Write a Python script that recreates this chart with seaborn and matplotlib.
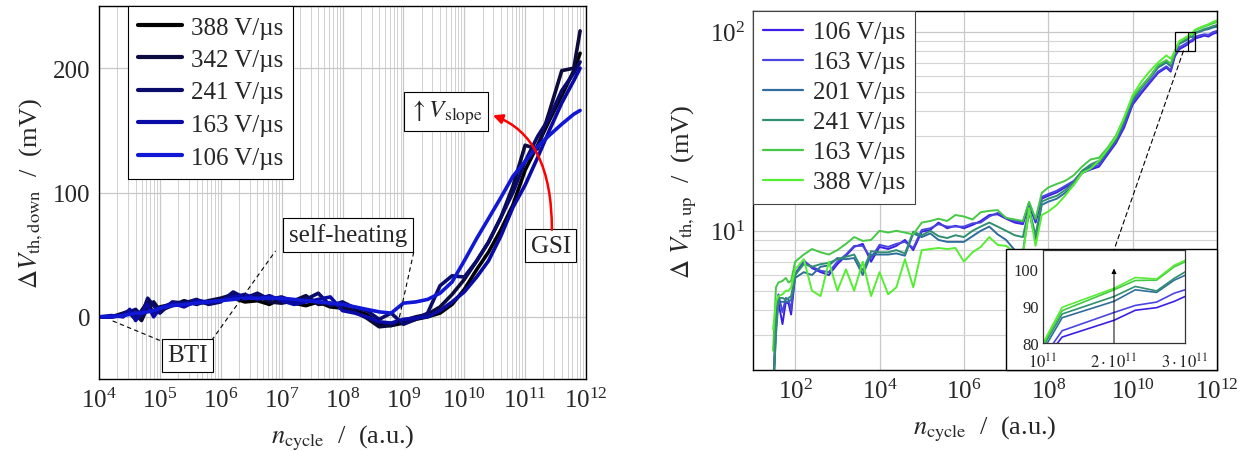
import numpy as np
import pandas as pd
import matplotlib
matplotlib.use("Agg")
import matplotlib.pyplot as plt
import seaborn as sns
from matplotlib.patches import Rectangle, ConnectionPatch
from matplotlib.ticker import LogLocator, NullFormatter, FixedLocator, NullLocator

# ---------------- data: left panel (Delta V_th,down) ----------------
x_left = [1.0e4, 1.6e4, 2.5e4, 3.2e4, 4.0e4, 5.0e4, 6.3e4, 7.9e4, 1.0e5, 1.6e5,
          2.5e5, 4.0e5, 6.3e5, 1.0e6, 1.6e6, 2.5e6, 4.0e6, 6.3e6, 1.0e7, 1.6e7,
          2.5e7, 4.0e7, 6.3e7, 1.0e8, 1.6e8, 2.5e8, 4.0e8, 6.3e8, 1.0e9, 1.6e9,
          2.5e9, 4.0e9, 6.3e9, 1.0e10, 1.6e10, 2.5e10, 4.0e10, 6.3e10, 1.0e11, 1.6e11,
          2.5e11, 4.0e11, 6.3e11, 8.0e11]
down_388 = [0, 0, 1, 3, -2, 5, 12, 2, 8, 10, 9, 12, 11, 14, 15, 12, 13, 10, 15, 11,
            9, 12, 8, 7, 5, 2, -6, -7, -5, -2, 0, 3, 10, 22, 38, 52, 70, 90, 118, 138,
            158, 178, 198, 212]
down_342 = [0, 0, 3, 5, 2, -3, 8, 12, 5, 9, 13, 10, 13, 15, 18, 14, 17, 12, 11, 13,
            17, 10, 11, 8, 4, -1, -8, -7, -3, 0, 2, 8, 18, 30, 45, 60, 80, 105, 138, 135,
            165, 198, 200, 230]
down_241 = [0, 0, 2, 4, 6, 1, 15, 9, 3, 12, 11, 14, 10, 12, 20, 15, 19, 14, 16, 12,
            14, 19, 9, 12, 7, 5, -2, 3, -6, -2, 3, 25, 33, 32, 45, 60, 80, 100, 125, 145,
            160, 182, 196, 205]
down_163 = [0, 1, 0, 6, -3, 4, 10, 0, 7, 11, 8, 13, 12, 13, 16, 18, 14, 17, 13, 10,
            12, 14, 16, 5, 3, 0, -4, -5, -2, -1, 0, 5, 12, 20, 32, 45, 65, 88, 106, 128,
            150, 172, 190, 200]
down_106 = [0, 0, 1, 2, 3, 3, 4, 5, 7, 9, 10, 11, 12, 13, 14, 15, 15, 15, 15, 14,
            13, 12, 11, 10, 8, 6, 4, 3, 11, 12, 14, 19, 28, 45, 63, 79, 96, 113, 125, 137,
            146, 155, 163, 166]
left_labels = ["388 V/µs", "342 V/µs", "241 V/µs", "163 V/µs", "106 V/µs"]
left_series = [down_388, down_342, down_241, down_163, down_106]
left_colors = ["#000000", "#0b0b3d", "#0b0b6e", "#0a0aa6", "#1018d6"]

# ---------------- data: right panel (Delta V_th,up) ----------------
x_right = [3.0e1, 3.5e1, 4.0e1, 5.0e1, 6.0e1, 7.0e1, 8.0e1, 1.0e2, 1.6e2, 2.5e2,
           4.0e2, 6.3e2, 1.0e3, 1.6e3, 2.5e3, 4.0e3, 6.3e3, 1.0e4, 1.6e4, 2.5e4,
           4.0e4, 6.3e4, 1.0e5, 1.6e5, 2.5e5, 4.0e5, 6.3e5, 1.0e6, 1.6e6, 2.5e6,
           4.0e6, 6.3e6, 1.0e7, 1.6e7, 2.5e7, 3.5e7, 5.0e7, 7.0e7, 1.0e8, 1.6e8,
           2.5e8, 4.0e8, 6.3e8, 1.0e9, 1.6e9, 2.5e9, 4.0e9, 6.3e9, 1.0e10, 1.6e10,
           2.5e10, 4.0e10, 6.3e10, 8.0e10, 1.0e11, 1.27e11, 2.0e11, 2.3e11, 2.6e11, 2.85e11,
           3.0e11, 4.0e11, 5.0e11, 6.3e11, 8.0e11, 1.0e12]
up_106 = [1.5, 3.5, 4.4, 3.4, 4.4, 4.3, 3.8, 6.0, 7.1, 6.5,
          6.2, 6.0, 6.8, 7.5, 8.3, 8.6, 7.0, 8.3, 8.1, 8.4,
          9.0, 8.0, 9.9, 10.1, 11.0, 10.3, 10.6, 10.3, 10.7, 11.2,
          12.0, 12.1, 11.5, 11.0, 10.8, 13.5, 11.0, 14.5, 15.0, 15.6,
          16.5, 17.5, 19.5, 20.3, 21.0, 24.0, 27.5, 33.0, 43.0, 49.0,
          55.0, 62.0, 66.0, 63.0, 75.0, 81.6, 86.1, 88.8, 89.5, 91.2,
          92.5, 94.0, 95.5, 94.5, 97.5, 99.0]
up_163a = [1.5, 3.8, 4.8, 3.9, 4.6, 4.5, 4.0, 6.1, 7.0, 6.6,
           6.3, 6.2, 7.0, 7.6, 8.4, 8.4, 7.3, 8.5, 8.3, 8.6,
           8.8, 8.2, 10.1, 10.3, 10.8, 10.5, 10.5, 10.5, 10.9, 11.0,
           11.8, 12.3, 11.6, 11.2, 11.0, 13.8, 11.3, 14.8, 15.3, 15.9,
           16.8, 17.8, 19.8, 20.7, 21.4, 24.5, 28.0, 34.0, 44.0, 50.0,
           56.0, 63.0, 67.0, 64.0, 76.0, 83.3, 88.2, 90.1, 91.0, 93.4,
           94.3, 96.0, 97.0, 96.5, 99.5, 101.0]
up_201 = [1.5, 3.0, 4.4, 4.4, 4.4, 4.4, 4.5, 5.8, 6.2, 6.0,
          6.6, 6.7, 7.3, 7.2, 7.3, 6.0, 7.6, 7.6, 7.6, 7.7,
          7.5, 9.7, 9.3, 9.7, 9.0, 8.8, 8.8, 8.8, 9.4, 10.0,
          10.5, 9.6, 9.0, 8.0, 7.8, 12.5, 9.0, 13.5, 14.0, 14.5,
          15.5, 17.0, 19.5, 21.0, 22.0, 25.0, 28.5, 35.0, 45.0, 52.0,
          58.0, 66.0, 70.0, 67.0, 78.0, 86.8, 91.2, 94.3, 93.6, 96.9,
          98.2, 100.0, 102.0, 103.0, 105.0, 106.0]
up_241 = [1.5, 3.2, 4.6, 4.6, 4.5, 4.6, 4.7, 6.0, 6.8, 6.6,
          6.8, 6.9, 7.2, 7.4, 7.6, 6.3, 7.9, 7.8, 7.8, 8.0,
          7.7, 9.9, 9.5, 10.0, 9.4, 9.2, 9.5, 9.3, 10.0, 10.5,
          11.0, 10.5, 10.0, 9.5, 9.3, 13.0, 9.5, 14.0, 14.5, 15.0,
          16.0, 17.5, 20.0, 21.5, 22.5, 25.5, 29.0, 36.0, 46.0, 53.0,
          59.0, 67.0, 71.0, 68.0, 79.0, 87.8, 92.5, 95.2, 94.0, 97.4,
          99.1, 101.0, 103.0, 104.5, 106.5, 108.0]
up_163b = [2.5, 5.2, 5.5, 5.6, 5.8, 5.5, 5.6, 7.0, 7.6, 8.1,
           7.8, 7.6, 8.0, 8.6, 9.3, 8.9, 9.0, 10.0, 9.8, 10.0,
           9.8, 9.6, 11.0, 11.2, 11.5, 11.2, 12.0, 11.8, 11.4, 12.4,
           12.6, 12.7, 11.6, 11.4, 11.2, 14.0, 11.5, 15.5, 16.5, 17.2,
           17.8, 19.0, 21.0, 22.8, 23.3, 26.0, 30.0, 37.0, 47.0, 53.0,
           59.0, 68.0, 72.0, 69.0, 79.5, 88.7, 94.3, 96.8, 96.9, 100.5,
           101.8, 104.0, 106.0, 108.0, 110.0, 112.0]
up_388 = [3.2, 4.4, 4.7, 4.8, 5.0, 5.0, 5.2, 6.4, 7.2, 5.0,
          4.7, 7.0, 5.0, 6.4, 5.0, 7.0, 4.7, 6.2, 4.8, 5.2,
          7.2, 5.2, 8.0, 8.1, 8.2, 8.1, 8.2, 7.0, 7.8, 8.3,
          9.3, 8.5, 8.4, 7.8, 7.5, 13.0, 8.4, 12.0, 12.5, 13.5,
          15.0, 17.0, 19.5, 20.5, 22.5, 25.5, 29.5, 37.0, 48.0, 56.0,
          63.0, 70.0, 76.0, 73.0, 80.0, 89.6, 94.7, 97.6, 97.2, 100.9,
          102.2, 105.0, 107.0, 109.0, 112.0, 114.0]
right_labels = ["106 V/µs", "163 V/µs", "201 V/µs", "241 V/µs", "163 V/µs", "388 V/µs"]
right_series = [up_106, up_163a, up_201, up_241, up_163b, up_388]
right_colors = ["#3b1fe6", "#4b45e0", "#2f6d9c", "#2f8f70", "#45c845", "#55ee33"]

inset_xticks = [1e11, 2e11, 3e11]
inset_xticklabels = [r"$10^{11}$", r"$2\cdot10^{11}$", r"$3\cdot10^{11}$"]
inset_yticks = [80, 90, 100]

# ---------------- style ----------------
sns.set_style("white")
plt.rcParams['font.family'] = ['Liberation Serif', 'DejaVu Serif']
plt.rcParams['mathtext.fontset'] = 'stix'
plt.rcParams['xtick.direction'] = 'in'
plt.rcParams['ytick.direction'] = 'in'

W, H = 1246, 452
fig = plt.figure(figsize=(W / 100, H / 100), dpi=100)

def fbox(l, t, r, b):
    return [l / W, 1 - b / H, (r - l) / W, (b - t) / H]

TFS = 18   # tick labels
LFS = 19   # axis labels
GFS = 18   # legend
AFS = 18   # annotation boxes

# ---------------- left panel ----------------
axL = fig.add_axes(fbox(99, 7, 586, 380))
axL.set_xscale('log')
for lab, ys, c in zip(left_labels, left_series, left_colors):
    sns.lineplot(x=x_left, y=ys, ax=axL, color=c, linewidth=2.6, label=lab,
                 sort=False, estimator=None)
axL.set_xlim(1e4, 1e12)
axL.set_ylim(-50, 250)
axL.xaxis.set_major_locator(LogLocator(base=10, numticks=20))
axL.xaxis.set_minor_locator(LogLocator(base=10, subs=np.arange(2, 10), numticks=200))
axL.xaxis.set_minor_formatter(NullFormatter())
axL.set_yticks([0, 100, 200])
axL.grid(True, which='major', color='#c8c8c8', linewidth=0.9)
axL.grid(True, which='minor', axis='x', color='#d0d0d0', linewidth=0.7)
axL.set_axisbelow(True)
axL.tick_params(labelsize=TFS, length=4, which='major', pad=6)
axL.tick_params(which='minor', length=2)
axL.set_xlabel(r"$n_{\mathrm{cycle}}$  /  (a.u.)", fontsize=LFS, labelpad=8)
axL.set_ylabel(r"$\Delta V_{\mathrm{th,down}}$  /  (mV)", fontsize=LFS, labelpad=6)
for s in axL.spines.values():
    s.set_color('black'); s.set_linewidth(1.0)
legL = axL.legend(loc='upper left', bbox_to_anchor=(0.06, 1.0), borderaxespad=0,
                  fontsize=GFS, frameon=True, fancybox=False, framealpha=1,
                  edgecolor='black', handlelength=1.75, labelspacing=0.4,
                  handletextpad=0.35, borderpad=0.4)
legL.get_frame().set_linewidth(0.8)
for h in legL.get_lines():
    h.set_linewidth(3.0)

boxkw = dict(boxstyle='square,pad=0.22', fc='white', ec='black', lw=0.8)
axL.text(10**9.7, 165, r"$\uparrow V_{\mathrm{slope}}$", fontsize=AFS, ha='center',
         va='center', bbox=boxkw, zorder=6)
axL.text(10**11.42, 57, "GSI", fontsize=AFS, ha='center', va='center', bbox=boxkw, zorder=6)
axL.text(10**8.09, 66, "self-heating", fontsize=AFS, ha='center', va='center',
         bbox=boxkw, zorder=6)
axL.text(10**5.45, -31, "BTI", fontsize=AFS, ha='center', va='center', bbox=boxkw, zorder=6)
axL.annotate("", xy=(10**10.47, 162), xytext=(10**11.44, 70),
             arrowprops=dict(arrowstyle='-|>', color='red', lw=1.8, mutation_scale=14,
                             connectionstyle="angle3,angleA=90,angleB=-20",
                             shrinkA=0, shrinkB=0), zorder=7)
dash = dict(color='black', linestyle=(0, (4, 3)), linewidth=0.8, zorder=5)
axL.plot([10**5.0, 10**4.21], [-19, -3], **dash)
axL.plot([10**5.85, 10**6.9], [-19, 53], **dash)
axL.plot([10**9.17, 10**8.9], [52, -8], **dash)

# ---------------- right panel ----------------
axR = fig.add_axes(fbox(753, 12, 1217, 371))
axR.set_xscale('log')
axR.set_yscale('log')
for lab, ys, c in zip(right_labels, right_series, right_colors):
    sns.lineplot(x=x_right, y=ys, ax=axR, color=c, linewidth=1.4, label=lab,
                 sort=False, estimator=None)
axR.set_xlim(10, 1e12)
axR.set_ylim(2, 127)
axR.xaxis.set_major_locator(FixedLocator([1e2, 1e4, 1e6, 1e8, 1e10, 1e12]))
axR.xaxis.set_minor_locator(NullLocator())
axR.yaxis.set_major_locator(FixedLocator([10, 100]))
axR.yaxis.set_minor_locator(LogLocator(base=10, subs=np.arange(2, 10), numticks=50))
axR.yaxis.set_minor_formatter(NullFormatter())
axR.grid(True, which='major', color='#c8c8c8', linewidth=0.9)
axR.grid(True, which='minor', axis='y', color='#d4d4d4', linewidth=0.8)
axR.set_axisbelow(True)
axR.tick_params(labelsize=TFS, length=4, pad=6)
axR.tick_params(which='minor', length=2)
axR.set_xlabel(r"$n_{\mathrm{cycle}}$  /  (a.u.)", fontsize=LFS, labelpad=8)
axR.set_ylabel(r"$\Delta\ V_{\mathrm{th,up}}$  /  (mV)", fontsize=LFS, labelpad=8)
for s in axR.spines.values():
    s.set_color('black'); s.set_linewidth(1.0)
legR = axR.legend(loc='upper left', bbox_to_anchor=(0.0, 1.0), borderaxespad=0,
                  fontsize=GFS, frameon=True, fancybox=False, framealpha=1,
                  edgecolor='#444444', handlelength=1.6, labelspacing=0.3,
                  handletextpad=0.4, borderpad=0.4)
legR.get_frame().set_linewidth(0.8)
for h in legR.get_lines():
    h.set_linewidth(1.6)

axR.add_patch(Rectangle((1e11, 80), 2e11, 20, fill=False, ec='black', lw=0.9, zorder=5))
axR.vlines(2e11, 80, 100, color='black', lw=0.8, zorder=5)

# white frame behind the inset
fig.patches.append(Rectangle((1006 / W, 1 - 371 / H), (1217 - 1006) / W, (371 - 250) / H,
                             transform=fig.transFigure, fc='white', ec='black', lw=1.0,
                             zorder=3))

axI = fig.add_axes(fbox(1043, 251, 1185, 344))
axI.set_zorder(4)
for lab, ys, c in zip(right_labels, right_series, right_colors):
    sns.lineplot(x=x_right, y=ys, ax=axI, color=c, linewidth=1.2, legend=False,
                 sort=False, estimator=None)
axI.set_xlim(1e11, 3e11)
axI.set_ylim(80, 105)
axI.set_xticks(inset_xticks)
axI.set_xticklabels(inset_xticklabels)
axI.set_yticks(inset_yticks)
axI.tick_params(axis='y', labelsize=12, length=3, pad=3)
axI.tick_params(axis='x', labelsize=12, length=3, pad=7)
axI.set_xlabel(""); axI.set_ylabel("")
for s in axI.spines.values():
    s.set_color('#333333'); s.set_linewidth(0.9)
axI.annotate("", xy=(2e11, 100), xytext=(2e11, 80),
             arrowprops=dict(arrowstyle='-|>', color='black', lw=0.7, mutation_scale=7,
                             shrinkA=0, shrinkB=0))

con = ConnectionPatch(xyA=(1.6e11, 80), coordsA=axR.transData,
                      xyB=(2e11, 105), coordsB=axI.transData,
                      linestyle=(0, (4, 3)), color='black', lw=0.8, zorder=5)
fig.add_artist(con)

fig.savefig("out.png", dpi=100)
